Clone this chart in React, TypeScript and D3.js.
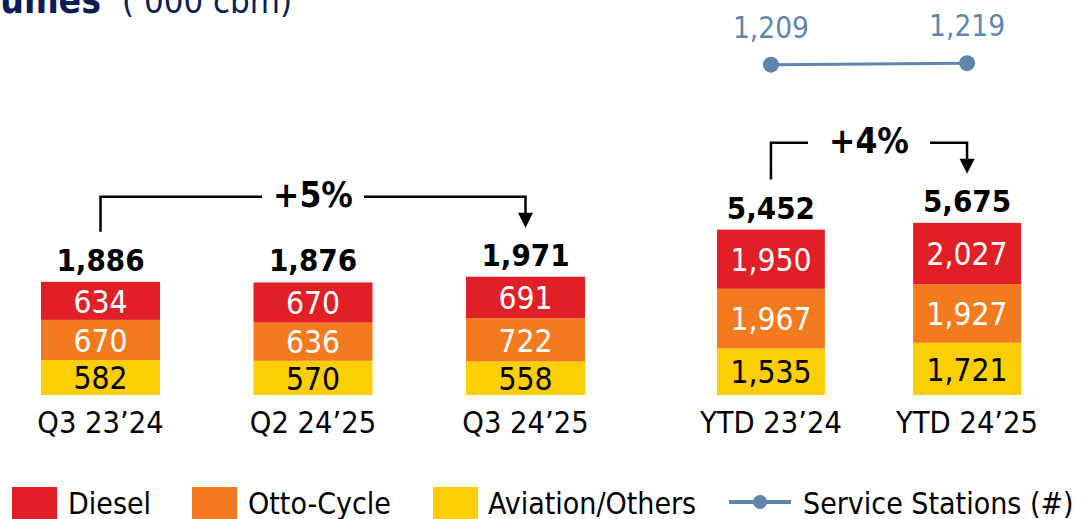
import React from "react";
import { scaleBand, scaleLinear, stack, line, format } from "d3";

const width = 1088;
const height = 519;

// quarter panel
const quarterCats = ["Q3 23’24", "Q2 24’25", "Q3 24’25"];
const quarterDiesel = [634, 670, 691];
const quarterOtto = [670, 636, 722];
const quarterAviation = [582, 570, 558];
const quarterTotals = [1886, 1876, 1971];
const quarterGrowth = "+5%";

// year-to-date panel
const ytdCats = ["YTD 23’24", "YTD 24’25"];
const ytdDiesel = [1950, 2027];
const ytdOtto = [1967, 1927];
const ytdAviation = [1535, 1721];
const ytdTotals = [5452, 5675];
const ytdGrowth = "+4%";

const stations = [1209, 1219];

const seriesNames = ["Diesel", "Otto-Cycle", "Aviation/Others"];
const colors = { aviation: "#fccf05", otto: "#f47a20", diesel: "#e01f26" };
const blue = "#5f86aa";
const navy = "#0c1c58";
const FONT = "'DejaVu Sans Condensed', 'DejaVu Sans', sans-serif";

const fmt = format(",");
const baseY = 395;

const quarterX = scaleBand<string>().domain(quarterCats).range([41, 585]).paddingInner(0.44);
const quarterY = scaleLinear().domain([0, 2000]).range([baseY, baseY - 120]);
const ytdX = scaleBand<string>().domain(ytdCats).range([717, 1021]).paddingInner(0.45);
const ytdY = scaleLinear().domain([0, 6000]).range([baseY, baseY - 182]);
const stationY = scaleLinear().domain([1100, 1300]).range([81, 51]);

const keys = ["aviation", "otto", "diesel"] as const;
const stacker = stack<any>().keys(keys as any);

function buildRows(cats: string[], av: number[], ot: number[], di: number[]) {
  return cats.map((c, i) => ({ cat: c, aviation: av[i], otto: ot[i], diesel: di[i] }));
}

function Panel({ cats, av, ot, di, totals, growth, x, y, gapHalf }: any) {
  const rows = buildRows(cats, av, ot, di);
  const layers = stacker(rows);
  const bw = x.bandwidth();
  const c0 = x(cats[0]) + bw / 2;
  const c1 = x(cats[cats.length - 1]) + bw / 2;
  const level = y(Math.max(...totals)) - 80;
  const mid = (c0 + c1) / 2;
  const leftBottom = y(totals[0]) - 50;
  const tip = y(totals[totals.length - 1]) - 49;
  return (
    <g>
      {layers.map((layer: any) =>
        layer.map((d: any, i: number) => {
          const k = layer.key as keyof typeof colors;
          const y0 = y(d[1]);
          const y1 = y(d[0]);
          return (
            <g key={k + i}>
              <rect x={x(cats[i])} y={y0} width={bw} height={y1 - y0} fill={colors[k]} />
              <text
                x={x(cats[i]) + bw / 2}
                y={(y0 + y1) / 2}
                dy="0.37em"
                textAnchor="middle"
                fontSize={31.5}
                fill={k === "aviation" ? "#000" : "#fff"}
              >
                {fmt(d[1] - d[0])}
              </text>
            </g>
          );
        })
      )}
      {cats.map((c: string, i: number) => (
        <g key={c}>
          <text x={x(c) + bw / 2} y={y(totals[i]) - 11} textAnchor="middle" fontSize={31} fontWeight="bold">
            {fmt(totals[i])}
          </text>
          <text x={x(c) + bw / 2} y={433} textAnchor="middle" fontSize={30.5}>
            {c}
          </text>
        </g>
      ))}
      <path
        d={`M${c0},${leftBottom}V${level}H${mid - gapHalf}M${mid + gapHalf},${level}H${c1}V${tip - 12}`}
        fill="none"
        stroke="#000"
        strokeWidth={2.5}
      />
      <path d={`M${c1 - 7.5},${tip - 15}L${c1 + 7.5},${tip - 15}L${c1},${tip}Z`} fill="#000" />
      <text x={mid} y={level + 10} textAnchor="middle" fontSize={35} fontWeight="bold">
        {growth}
      </text>
    </g>
  );
}

export default function App() {
  const ytdCenters = ytdCats.map((c) => (ytdX(c) as number) + ytdX.bandwidth() / 2);
  const stationLine = line<number>()
    .x((_, i) => ytdCenters[i])
    .y((d) => stationY(d));
  return (
    <svg
      width={width}
      height={height}
      style={{ position: "absolute", left: 0, top: 0, background: "#fff" }}
      fontFamily={FONT}
    >
      <text x={101} y={13} textAnchor="end" fontSize={37} fontWeight="bold" fill={navy}>
        Volumes
      </text>
      <text x={122} y={13} fontSize={34.5} fill={navy}>
        (’000 cbm)
      </text>

      <Panel
        cats={quarterCats}
        av={quarterAviation}
        ot={quarterOtto}
        di={quarterDiesel}
        totals={quarterTotals}
        growth={quarterGrowth}
        x={quarterX}
        y={quarterY}
        gapHalf={51}
      />
      <Panel
        cats={ytdCats}
        av={ytdAviation}
        ot={ytdOtto}
        di={ytdDiesel}
        totals={ytdTotals}
        growth={ytdGrowth}
        x={ytdX}
        y={ytdY}
        gapHalf={61}
      />

      <path d={stationLine(stations) || ""} fill="none" stroke={blue} strokeWidth={3} />
      {stations.map((s, i) => (
        <g key={i}>
          <circle cx={ytdCenters[i]} cy={stationY(s)} r={8} fill={blue} />
          <text x={ytdCenters[i]} y={stationY(s) - 27} textAnchor="middle" fontSize={29.5} fill={blue}>
            {fmt(s)}
          </text>
        </g>
      ))}

      {/* legend */}
      <g fontSize={30}>
        <rect x={12} y={487} width={45} height={40} fill={colors.diesel} />
        <text x={68} y={514}>{seriesNames[0]}</text>
        <rect x={192} y={487} width={45} height={40} fill={colors.otto} />
        <text x={248} y={514}>{seriesNames[1]}</text>
        <rect x={433} y={487} width={45} height={40} fill={colors.aviation} />
        <text x={488} y={514}>{seriesNames[2]}</text>
        <line x1={729} x2={791} y1={502} y2={502} stroke={blue} strokeWidth={4} />
        <circle cx={760} cy={502} r={7} fill={blue} />
        <text x={803} y={514}>Service Stations (#)</text>
      </g>
    </svg>
  );
}
